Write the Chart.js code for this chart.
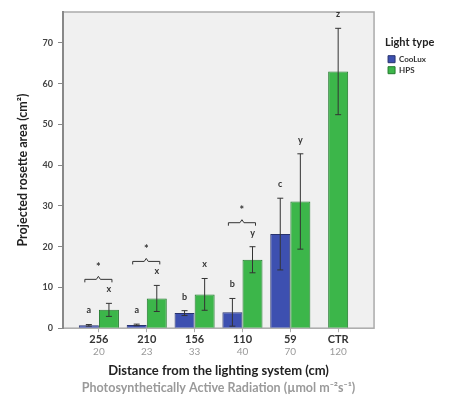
<!DOCTYPE html>
<html>
<head>
<meta charset="utf-8">
<script src="https://cdn.jsdelivr.net/npm/chart.js@4.4.0/dist/chart.umd.min.js"></script>
<style>
  body { margin: 0; background: #fff; }
  canvas { display: block; }
</style>
</head>
<body>
<canvas id="canvas" width="449" height="397"></canvas>
<script>
// distance from lamp (cm) and PAR at that distance
const categories = ['256', '210', '156', '110', '59', 'CTR'];
const parValues = ['20', '23', '33', '40', '70', '120'];

// mean projected rosette area (cm2) and error
const coolux = [0.7, 0.8, 3.7, 3.9, 23.1, null];
const cooluxErr = [0.2, 0.2, 0.6, 3.4, 8.8, null];
const hps = [4.5, 7.3, 8.3, 16.8, 31.1, 63.0];
const hpsErr = [1.6, 3.2, 3.9, 3.2, 11.7, 10.6];

// significance letters and stars
const cooluxLetters = ['a', 'a', 'b', 'b', 'c', null];
const hpsLetters = ['x', 'x', 'x', 'y', 'y', 'z'];
const stars = ['*', '*', '', '*', '', ''];

const yTicks = [0, 10, 20, 30, 40, 50, 60, 70];

const FONT = 'Lato, "Liberation Sans", sans-serif';

const toPoints = arr => arr.map((v, i) => ({ x: i, y: v }));

const frame = {
    id: 'frame',
    beforeDraw(chart) {
        const { ctx, chartArea: a } = chart;
        ctx.save();
        ctx.fillStyle = '#f0f0f0';
        ctx.fillRect(a.left, a.top, a.right - a.left, a.bottom - a.top);
        ctx.strokeStyle = '#aaa';
        ctx.lineWidth = 1.5;
        ctx.strokeRect(a.left, a.top, a.right - a.left, a.bottom - a.top);
        ctx.restore();
    },
    afterDraw(chart) {
        // second row of x labels: PAR values in grey
        const { ctx } = chart;
        const x = chart.scales.x;
        ctx.save();
        ctx.fillStyle = '#9a9a9a';
        ctx.font = '10px ' + FONT;
        ctx.textAlign = 'center';
        ctx.textBaseline = 'middle';
        parValues.forEach((p, i) => ctx.fillText(p, x.getPixelForValue(i), x.top + 24));
        ctx.restore();
    }
};

const errorBars = {
    id: 'errorBars',
    afterDatasetsDraw(chart) {
        const ctx = chart.ctx;
        const y = chart.scales.y;
        const errs = [cooluxErr, hpsErr];
        const vals = [coolux, hps];
        const letters = [cooluxLetters, hpsLetters];
        const tops = [[], []];
        ctx.save();
        ctx.strokeStyle = '#333';
        ctx.lineWidth = 1;
        ctx.fillStyle = '#333';
        ctx.font = 'bold 9px ' + FONT;
        ctx.textAlign = 'center';
        ctx.textBaseline = 'middle';
        [0, 1].forEach(d => {
            const meta = chart.getDatasetMeta(d);
            meta.data.forEach((bar, i) => {
                const v = vals[d][i];
                if (v === null) return;
                const e = errs[d][i];
                const hi = y.getPixelForValue(v + e);
                const lo = y.getPixelForValue(Math.max(0, v - e));
                ctx.beginPath();
                ctx.moveTo(bar.x, hi);
                ctx.lineTo(bar.x, lo);
                ctx.moveTo(bar.x - 3, hi);
                ctx.lineTo(bar.x + 3, hi);
                ctx.moveTo(bar.x - 3, lo);
                ctx.lineTo(bar.x + 3, lo);
                ctx.stroke();
                const ty = hi - 14;
                tops[d][i] = { x: bar.x, y: ty };
                if (letters[d][i]) ctx.fillText(letters[d][i], bar.x, ty);
            });
        });
        // brackets with stars
        stars.forEach((s, i) => {
            if (!s || !tops[0][i] || !tops[1][i]) return;
            const x1 = tops[0][i].x - 4, x2 = tops[1][i].x + 3;
            const by = Math.min(tops[0][i].y, tops[1][i].y) - 10;
            const mx = (x1 + x2) / 2;
            ctx.beginPath();
            ctx.moveTo(x1, by + 3);
            ctx.lineTo(x1, by);
            ctx.lineTo(mx - 2, by);
            ctx.lineTo(mx, by - 3);
            ctx.lineTo(mx + 2, by);
            ctx.lineTo(x2, by);
            ctx.lineTo(x2, by + 3);
            ctx.stroke();
            ctx.font = 'bold 11px ' + FONT;
            ctx.fillText(s, mx, by - 12);
        });
        ctx.restore();
    }
};

const ctx = document.getElementById('canvas').getContext('2d');
const myChart = new Chart(ctx, {
    type: 'bar',
    data: {
        datasets: [{
            label: 'CooLux',
            data: toPoints(coolux),
            backgroundColor: '#3d50b0',
            borderColor: '#28336e',
            borderWidth: 1
        }, {
            label: 'HPS',
            data: toPoints(hps),
            backgroundColor: '#3cb64a',
            borderColor: '#237a2e',
            borderWidth: 1
        }]
    },
    options: {
        responsive: false,
        animation: false,
        skipNull: true,
        categoryPercentage: 0.84,
        barPercentage: 1,
        maxBarThickness: 20,
        layout: { padding: { left: 15, top: 12, right: 13, bottom: 0 } },
        scales: {
            x: {
                type: 'linear',
                min: -0.75,
                max: 5.75,
                offset: false,
                grid: { display: true, offset: false, drawOnChartArea: false, tickLength: 4, color: '#aaa' },
                border: { display: false },
                afterBuildTicks: s => { s.ticks = categories.map((c, i) => ({ value: i })); },
                afterFit: s => { s.height = 31; },
                ticks: {
                    callback: v => categories[v],
                    color: '#333',
                    font: { family: FONT, size: 11, weight: 'bold' },
                    padding: 1,
                    maxRotation: 0
                }
            },
            y: {
                min: 0,
                max: 77.6,
                afterBuildTicks: s => { s.ticks = yTicks.map(v => ({ value: v })); },
                afterFit: s => { s.width = 48; },
                grid: { display: true, drawOnChartArea: false, tickLength: 5, color: '#888' },
                border: { display: true, color: '#888', width: 2 },
                ticks: {
                    color: '#444',
                    font: { family: FONT, size: 9, weight: 'bold' },
                    padding: 5
                },
                title: {
                    display: true,
                    text: 'Projected rosette area (cm²)',
                    color: '#222',
                    font: { family: FONT, size: 12.5, weight: 'bold' },
                    padding: { top: 0, bottom: 0 }
                }
            },
            spacer: {
                type: 'linear',
                position: 'right',
                display: true,
                grid: { display: false },
                border: { display: false },
                ticks: { display: false },
                afterFit: s => { s.width = 11; }
            }
        },
        plugins: {
            legend: {
                position: 'right',
                align: 'start',
                title: {
                    display: true,
                    text: 'Light type',
                    position: 'start',
                    color: '#222',
                    font: { family: FONT, size: 11, weight: 'bold' },
                    padding: { top: 25, bottom: 2 }
                },
                labels: {
                    boxWidth: 7,
                    boxHeight: 7,
                    padding: 3,
                    color: '#333',
                    font: { family: FONT, size: 8, weight: 'bold' }
                }
            },
            subtitle: {
                display: true,
                position: 'bottom',
                fullSize: false,
                text: 'Distance from the lighting system (cm)',
                color: '#222',
                font: { family: FONT, size: 13, weight: 'bold' },
                padding: { top: 4, bottom: 1.7 }
            },
            title: {
                display: true,
                position: 'bottom',
                fullSize: false,
                text: 'Photosynthetically Active Radiation (µmol m⁻²s⁻¹)',
                color: '#9a9a9a',
                font: { family: FONT, size: 12.5, weight: 'bold' },
                padding: { top: 0, bottom: 1.5 }
            },
            tooltip: { enabled: false }
        }
    },
    plugins: [frame, errorBars]
});
</script>
</body>
</html>
